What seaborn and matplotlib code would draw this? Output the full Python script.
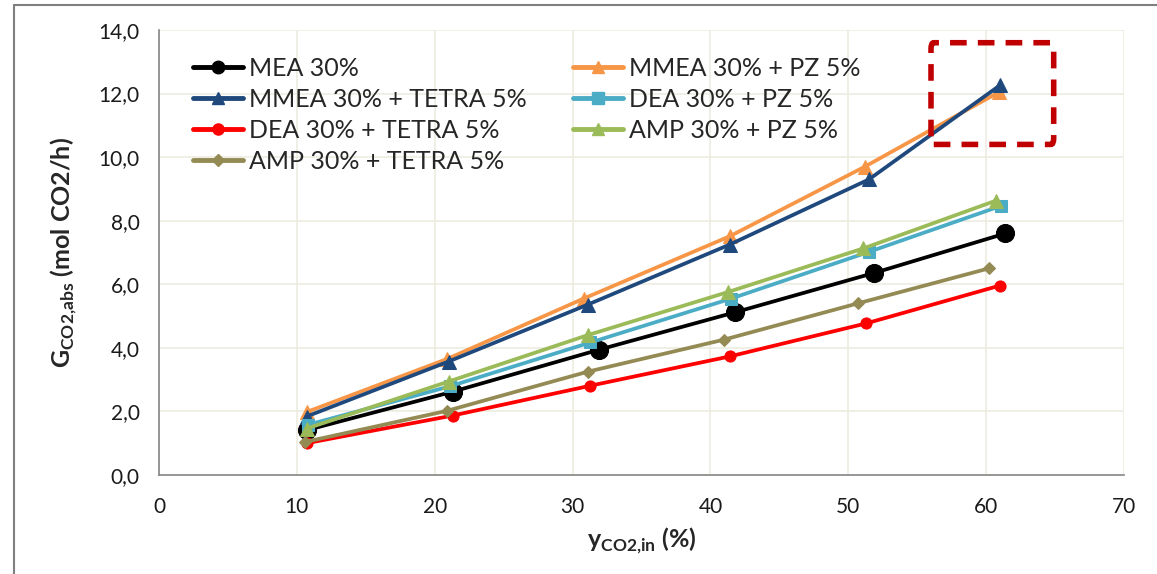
import matplotlib
matplotlib.use("Agg")
import matplotlib.pyplot as plt
import seaborn as sns
import pandas as pd
from matplotlib.patches import FancyBboxPatch
from matplotlib.lines import Line2D

# CO2 inlet fraction (%) for each solvent blend
x_mea = [10.7, 21.3, 31.9, 41.8, 51.9, 61.4]
x_mmea_pz = [10.7, 20.9, 30.8, 41.4, 51.2, 60.9]
x_mmea_tetra = [10.7, 21.0, 31.1, 41.4, 51.5, 61.0]
x_dea_pz = [10.8, 21.1, 31.3, 41.5, 51.5, 61.1]
x_dea_tetra = [10.7, 21.3, 31.3, 41.4, 51.3, 61.0]
x_amp_pz = [10.7, 21.0, 31.1, 41.3, 51.1, 60.7]
x_amp_tetra = [10.6, 20.9, 31.1, 41.0, 50.7, 60.2]

# Absorbed CO2 rate (mol CO2/h)
g_mea = [1.41, 2.62, 3.94, 5.12, 6.36, 7.60]
g_mmea_pz = [1.98, 3.65, 5.55, 7.51, 9.70, 12.04]
g_mmea_tetra = [1.84, 3.57, 5.36, 7.25, 9.30, 12.26]
g_dea_pz = [1.58, 2.79, 4.17, 5.55, 7.02, 8.47]
g_dea_tetra = [1.00, 1.87, 2.81, 3.73, 4.77, 5.96]
g_amp_pz = [1.46, 2.94, 4.40, 5.76, 7.13, 8.63]
g_amp_tetra = [1.04, 2.02, 3.25, 4.26, 5.40, 6.50]

labels = ["MEA 30%", "MMEA 30% + PZ 5%", "MMEA 30% + TETRA 5%", "DEA 30% + PZ 5%",
          "DEA 30% + TETRA 5%", "AMP 30% + PZ 5%", "AMP 30% + TETRA 5%"]
xs = [x_mea, x_mmea_pz, x_mmea_tetra, x_dea_pz, x_dea_tetra, x_amp_pz, x_amp_tetra]
gs = [g_mea, g_mmea_pz, g_mmea_tetra, g_dea_pz, g_dea_tetra, g_amp_pz, g_amp_tetra]

x_ticks = [0, 10, 20, 30, 40, 50, 60, 70]
y_ticks = [0, 2, 4, 6, 8, 10, 12, 14]

styles = {
    "MEA 30%": dict(color="#000000", marker="o", ms=13),
    "MMEA 30% + PZ 5%": dict(color="#F79646", marker="^", ms=10),
    "MMEA 30% + TETRA 5%": dict(color="#1F497D", marker="^", ms=10),
    "DEA 30% + PZ 5%": dict(color="#4BACC6", marker="s", ms=9),
    "DEA 30% + TETRA 5%": dict(color="#FF0000", marker="o", ms=8),
    "AMP 30% + PZ 5%": dict(color="#9BBB59", marker="^", ms=10),
    "AMP 30% + TETRA 5%": dict(color="#948A54", marker="D", ms=6),
}

frames = []
for lab, xv, gv in zip(labels, xs, gs):
    frames.append(pd.DataFrame({"y_in": xv, "G": gv, "solvent": lab}))
df = pd.concat(frames, ignore_index=True)

sns.set_theme(style="white")
plt.rcParams["font.family"] = ["Lato", "DejaVu Sans"]
plt.rcParams["mathtext.fontset"] = "custom"
plt.rcParams["mathtext.rm"] = "Lato"
plt.rcParams["mathtext.bf"] = "Lato:bold"

fig = plt.figure(figsize=(11.57, 5.74), dpi=100)
ax = fig.add_axes([159 / 1157, 1 - 475 / 574, 965 / 1157, 445 / 574])

handles = {}
for lab in labels:
    st = styles[lab]
    sub = df[df["solvent"] == lab]
    sns.lineplot(data=sub, x="y_in", y="G", ax=ax, sort=False, color=st["color"],
                 marker=st["marker"], markersize=st["ms"], markeredgecolor=st["color"],
                 linewidth=2.7, legend=False, zorder=3)
    handles[lab] = Line2D([], [], color=st["color"], marker=st["marker"],
                          markersize=min(st["ms"], 9), markeredgecolor=st["color"],
                          linewidth=3.5)

ax.set_xlim(0, 70)
ax.set_ylim(0, 14)
ax.set_xticks(x_ticks)
ax.set_yticks(y_ticks)
ax.set_yticklabels([f"{v:.1f}".replace(".", ",") for v in y_ticks])
ax.grid(True, color="#EEECE1", linewidth=1.2)
ax.set_axisbelow(True)
for side in ["top", "right"]:
    ax.spines[side].set_visible(False)
for side in ["left", "bottom"]:
    ax.spines[side].set_color("#868686")
    ax.spines[side].set_linewidth(1.2)
ax.tick_params(axis="both", which="major", direction="out", length=6, width=1,
               color="#868686", labelsize=15, labelcolor="#1a1a1a", pad=10)
ax.tick_params(axis="y", pad=8)

ax.set_xlabel(r"$\mathbf{y}_{\mathbf{CO2{,}in}}$ (%)", fontsize=18, fontweight="bold",
              labelpad=6)
ax.set_ylabel(r"$\mathbf{G}_{\mathbf{CO2{,}abs}}$ (mol CO2/h)", fontsize=18,
              fontweight="bold", labelpad=14)

# Highlight box around the 60 % points
box = FancyBboxPatch((56.0, 10.4), 8.9, 3.2, boxstyle="round,pad=0,rounding_size=0.2",
                     fill=False, edgecolor="#C00000", linewidth=4,
                     linestyle=(0, (3, 2)), zorder=4, clip_on=False)
ax.add_patch(box)

col1 = ["MEA 30%", "MMEA 30% + TETRA 5%", "DEA 30% + TETRA 5%", "AMP 30% + TETRA 5%"]
col2 = ["MMEA 30% + PZ 5%", "DEA 30% + PZ 5%", "AMP 30% + PZ 5%"]
leg_kw = dict(loc="upper left", frameon=False, fontsize=18, handlelength=2.0,
              handletextpad=0.25, labelspacing=0.32, borderaxespad=0, borderpad=0)
leg1 = ax.legend([handles[k] for k in col1], col1,
                 bbox_to_anchor=((193 - 159) / 965, (475 - 57) / 445), **leg_kw)
ax.add_artist(leg1)
ax.legend([handles[k] for k in col2], col2,
          bbox_to_anchor=((573 - 159) / 965, (475 - 57) / 445), **leg_kw)

# Outer frame of the figure
fig.add_artist(Line2D([14 / 1157, 14 / 1157], [0, 1 - 5 / 574], color="#7f7f7f",
                      linewidth=1.5, transform=fig.transFigure))
fig.add_artist(Line2D([14 / 1157, 1], [1 - 5 / 574, 1 - 5 / 574], color="#7f7f7f",
                      linewidth=1.5, transform=fig.transFigure))

fig.savefig("out.png", dpi=100)
